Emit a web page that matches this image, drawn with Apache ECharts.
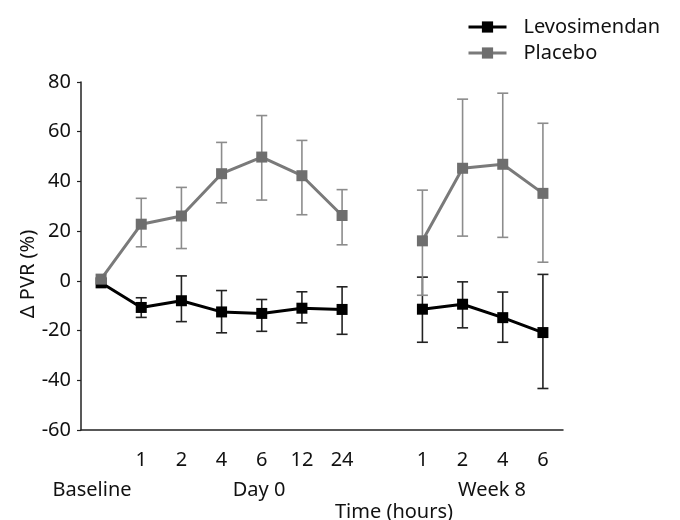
<!DOCTYPE html>
<html>
<head>
<meta charset="utf-8">
<script src="https://cdn.jsdelivr.net/npm/echarts@6/dist/echarts.min.js"></script>
<style>
html,body{margin:0;padding:0;background:#fff;}
#chart{width:680px;height:520px;}
</style>
</head>
<body>
<div id="chart"></div>
<script>
// Categories (time points) and the tick labels shown under the axis
var categories = ['Baseline','D0 1h','D0 2h','D0 4h','D0 6h','D0 12h','D0 24h','gap','W8 1h','W8 2h','W8 4h','W8 6h'];
var tickLabels = ['', '1','2','4','6','12','24','', '1','2','4','6'];

// Levosimendan: mean and error-bar bounds
var levoMean = [-0.8, -10.7, -8.0, -12.5, -13.1, -11.0, -11.5, null, -11.4, -9.4, -14.8, -20.8];
var levoLow  = [null, -14.7, -16.4, -20.9, -20.3, -16.9, -21.5, null, -24.7, -18.9, -24.7, -43.3];
var levoHigh = [null, -6.8, 2.0, -3.9, -7.5, -4.4, -2.4, null, 1.5, -0.4, -4.5, 2.6];

// Placebo: mean and error-bar bounds
var placeboMean = [0.7, 22.8, 26.1, 43.1, 49.8, 42.3, 26.3, null, 16.1, 45.3, 46.9, 35.2];
var placeboLow  = [null, 13.7, 13.0, 31.4, 32.5, 26.6, 14.5, null, -5.8, 18.0, 17.5, 7.5];
var placeboHigh = [null, 33.2, 37.6, 55.7, 66.5, 56.5, 36.7, null, 36.5, 73.1, 75.5, 63.4];

var yTicks = [-60, -40, -20, 0, 20, 40, 60, 80];

var FONT = 'Noto Sans';
var chart = echarts.init(document.getElementById('chart'), null, {renderer: 'canvas'});

function errData(low, high) {
  var out = [];
  for (var i = 0; i < low.length; i++) {
    if (low[i] != null && high[i] != null) out.push([i, low[i], high[i]]);
  }
  return out;
}
function errRender(color) {
  return function (params, api) {
    var lo = api.coord([api.value(0), api.value(1)]);
    var hi = api.coord([api.value(0), api.value(2)]);
    var w = 5.5;
    var st = {stroke: color, lineWidth: 1.6, fill: null};
    return {
      type: 'group',
      children: [
        {type: 'line', shape: {x1: lo[0], y1: lo[1], x2: hi[0], y2: hi[1]}, style: st},
        {type: 'line', shape: {x1: lo[0]-w, y1: lo[1], x2: lo[0]+w, y2: lo[1]}, style: st},
        {type: 'line', shape: {x1: hi[0]-w, y1: hi[1], x2: hi[0]+w, y2: hi[1]}, style: st}
      ]
    };
  };
}

var textColor = '#111';
var option = {
  animation: false,
  backgroundColor: '#fff',
  textStyle: {fontFamily: FONT},
  grid: {left: 81, right: 117, top: 82, bottom: 90, containLabel: false},
  legend: {
    orient: 'vertical',
    left: 462,
    top: 11,
    itemWidth: 38,
    itemHeight: 14,
    itemGap: 4,
    data: ['Levosimendan', 'Placebo'],
    lineStyle: {width: 3},
    textStyle: {fontFamily: FONT, fontSize: 20, color: textColor, padding: [0, 0, 0, 12], lineHeight: 22}
  },
  xAxis: {
    type: 'category',
    data: categories,
    boundaryGap: true,
    axisLine: {onZero: false, lineStyle: {color: '#222', width: 1.5}},
    axisTick: {
      alignWithLabel: true,
      length: 5,
      lineStyle: {color: '#222', width: 1.2},
      interval: function (index) { return tickLabels[index] !== ''; }
    },
    axisLabel: {
      interval: 0,
      margin: 20,
      fontFamily: FONT,
      fontSize: 20,
      color: textColor,
      formatter: function (value, index) { return tickLabels[index]; }
    },
    splitLine: {show: false}
  },
  yAxis: {
    type: 'value',
    min: yTicks[0],
    max: yTicks[yTicks.length - 1],
    interval: 20,
    axisLine: {show: true, onZero: false, lineStyle: {color: '#222', width: 1.5}},
    axisTick: {show: true, length: 4, lineStyle: {color: '#222', width: 1.2}},
    axisLabel: {margin: 10, fontFamily: FONT, fontSize: 20, color: textColor},
    splitLine: {show: false}
  },
  graphic: [
    {type: 'text', x: 92, y: 490, style: {text: 'Baseline', font: '20px "Noto Sans"', fill: textColor, textAlign: 'center', textVerticalAlign: 'middle'}},
    {type: 'text', x: 259, y: 490, style: {text: 'Day 0', font: '20px "Noto Sans"', fill: textColor, textAlign: 'center', textVerticalAlign: 'middle'}},
    {type: 'text', x: 492, y: 490, style: {text: 'Week 8', font: '20px "Noto Sans"', fill: textColor, textAlign: 'center', textVerticalAlign: 'middle'}},
    {type: 'text', x: 394, y: 512, style: {text: 'Time (hours)', font: '20px "Noto Sans"', fill: textColor, textAlign: 'center', textVerticalAlign: 'middle'}},
    {type: 'text', x: 28, y: 274, rotation: Math.PI / 2, style: {text: 'Δ PVR (%)', font: '20px "Noto Sans"', fill: textColor, textAlign: 'center', textVerticalAlign: 'middle'}}
  ],
  series: [
    {
      name: 'Levosimendan err',
      type: 'custom',
      renderItem: errRender('#222'),
      data: errData(levoLow, levoHigh),
      encode: {x: 0, y: [1, 2]},
      z: 1,
      silent: true
    },
    {
      name: 'Placebo err',
      type: 'custom',
      renderItem: errRender('#8c8c8c'),
      data: errData(placeboLow, placeboHigh),
      encode: {x: 0, y: [1, 2]},
      z: 1,
      silent: true
    },
    {
      name: 'Levosimendan',
      type: 'line',
      data: levoMean,
      connectNulls: false,
      symbol: 'rect',
      symbolSize: 11,
      showAllSymbol: true,
      lineStyle: {color: '#000', width: 3},
      itemStyle: {color: '#000', borderWidth: 0},
      z: 3
    },
    {
      name: 'Placebo',
      type: 'line',
      data: placeboMean,
      connectNulls: false,
      symbol: 'rect',
      symbolSize: 11,
      showAllSymbol: true,
      lineStyle: {color: '#7a7a7a', width: 3},
      itemStyle: {color: '#6e6e6e', borderWidth: 0},
      z: 4
    }
  ]
};
chart.setOption(option);
</script>
</body>
</html>
